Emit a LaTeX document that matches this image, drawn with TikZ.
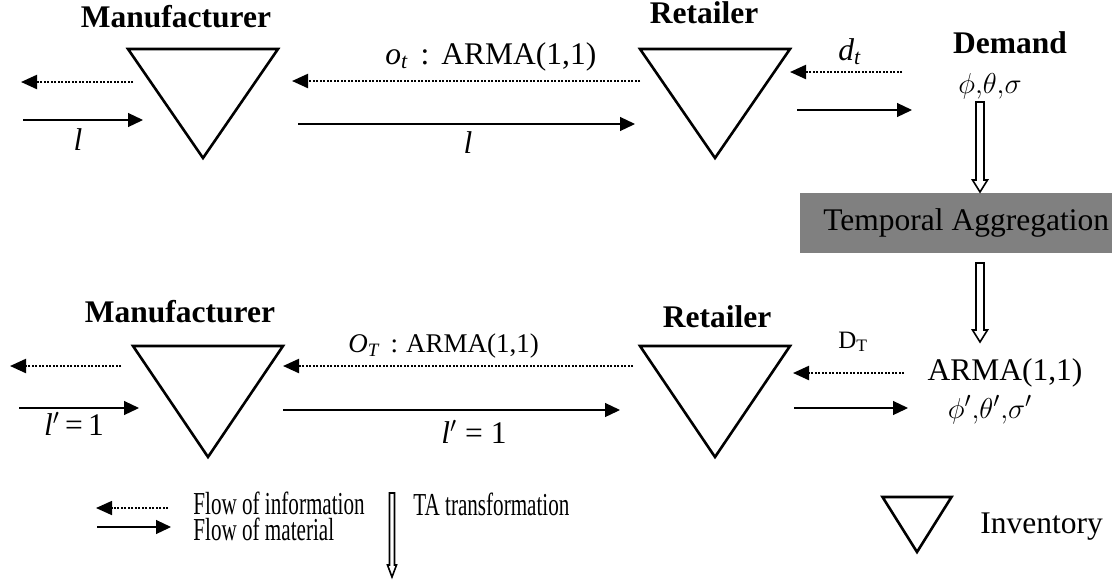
\documentclass[tikz,border=0pt]{standalone}
\usepackage{fontspec}
\setmainfont{Liberation Serif}
\usepackage{graphicx}
\usetikzlibrary{arrows.meta,calc}

% inventory triangle: top centre, half width, height
\newcommand{\stock}[3]{%
  \draw[inv] ($(#1)+(-#2,0)$) -- ($(#1)+(#2,0)$) -- ($(#1)+(0,#3)$) -- cycle;}
% hollow TA arrow: start, tip, shaft half width, head half width
\newcommand{\tadown}[4]{%
  \draw[tashaft] ($(#1)+(-#3,0)$) -- ($(#2)+(-#3,-12)$) -- ($(#2)+(-#4,-12)$) -- (#2)
    -- ($(#2)+(#4,-12)$) -- ($(#2)+(#3,-12)$) -- ($(#1)+(#3,0)$) -- cycle;}
\newcommand{\cond}[1]{\scalebox{0.66}[1]{#1}}

\tikzset{
  txt/.style={inner sep=0pt, anchor=base, font=\fontsize{15.75}{18}\selectfont},
  head/.style={txt, font=\fontsize{15.75}{18}\selectfont\bfseries},
  small/.style={inner sep=0pt, anchor=base west, font=\fontsize{13.5}{15}\selectfont},
  key/.style={inner sep=0pt, anchor=base west, font=\fontsize{16}{18}\selectfont},
  inv/.style={line width=1.3pt, line join=miter},
  info/.style={line width=1.1pt, dash pattern=on 1pt off 0.75pt,
    -{Triangle[length=8pt,width=7pt]}},
  mat/.style={line width=0.6pt, -{Triangle[length=7.5pt,width=7pt]}},
  tashaft/.style={line width=0.8pt, line join=miter},
  tabox/.style={fill=gray, anchor=west, minimum height=30pt, inner xsep=11.5pt,
    inner ysep=0pt, font=\fontsize{15.75}{18}\selectfont},
}

\begin{document}
\begin{tikzpicture}[x=0.5pt, y=-0.5pt]
  \useasboundingbox (0,0) rectangle (1112,579);

  % upper chain
  \coordinate (mtop) at (203,49);
  \coordinate (rtop) at (715,49);
  \stock{mtop}{75}{109}
  \stock{rtop}{75}{109}
  \node[head] (mfr1) at (176,27) {Manufacturer};
  \node[head] (ret1) at (704,23) {Retailer};
  \node[head] (dem) at (1010,53) {Demand};

  \coordinate (i1s) at (133,82);  \coordinate (i1e) at (21,82);
  \coordinate (m1s) at (23,120);  \coordinate (m1e) at (143,120);
  \coordinate (i2s) at (640,81);  \coordinate (i2e) at (292,81);
  \coordinate (m2s) at (298,124); \coordinate (m2e) at (635,124);
  \coordinate (i3s) at (902,72);  \coordinate (i3e) at (790,72);
  \coordinate (m3s) at (797,110); \coordinate (m3e) at (912,110);
  \draw[info] (i1s) -- (i1e);
  \draw[mat] (m1s) -- (m1e);
  \draw[info] (i2s) -- (i2e);
  \draw[mat] (m2s) -- (m2e);
  \draw[info] (i3s) -- (i3e);
  \draw[mat] (m3s) -- (m3e);

  \node[txt, anchor=base west] (ot) at (385,64)
    {\textit{o}\textsubscript{\textit{t}}\hspace{6pt}:\hspace{6pt}ARMA(1,1)};
  \node[txt] (l1) at (78,150) {\textit{l}};
  \node[txt] (l2) at (468,153) {\textit{l}};
  \node[txt] (dt) at (850,60) {\textit{d}\textsubscript{\textit{t}}};
  \node[txt] (par1) at (990,93) {$\phi{,}\theta{,}\sigma$};

  % aggregation step
  \node[tabox] (ta) at (800,223) {Temporal Aggregation};
  \coordinate (ta1s) at (980,102); \coordinate (ta1e) at (980,192);
  \coordinate (ta2s) at (980,263); \coordinate (ta2e) at (980,342);
  \tadown{ta1s}{ta1e}{4}{7.5}
  \tadown{ta2s}{ta2e}{4}{7.5}

  % lower chain
  \coordinate (mbot) at (208,346);
  \coordinate (rbot) at (715,346);
  \stock{mbot}{75}{111}
  \stock{rbot}{75}{111}
  \node[head] (mfr2) at (180,322) {Manufacturer};
  \node[head] (ret2) at (717,327) {Retailer};

  \coordinate (i4s) at (121,366); \coordinate (i4e) at (10,366);
  \coordinate (m4s) at (19,408);  \coordinate (m4e) at (139,408);
  \coordinate (i5s) at (633,366); \coordinate (i5e) at (283,366);
  \coordinate (m5s) at (283,410); \coordinate (m5e) at (620,410);
  \coordinate (i6s) at (904,373); \coordinate (i6e) at (793,373);
  \coordinate (m6s) at (794,408); \coordinate (m6e) at (908,408);
  \draw[info] (i4s) -- (i4e);
  \draw[mat] (m4s) -- (m4e);
  \draw[info] (i5s) -- (i5e);
  \draw[mat] (m5s) -- (m5e);
  \draw[info] (i6s) -- (i6e);
  \draw[mat] (m6s) -- (m6e);

  \node[small] (oT) at (348,352)
    {\textit{O}\textsubscript{\textit{T}}\hspace{5pt}:\hspace{4pt}ARMA(1,1)};
  \node[small, font=\fontsize{12.5}{15}\selectfont] (DT) at (838,348) {D\textsubscript{T}};
  \node[txt] (arma) at (1005,380) {ARMA(1,1)};
  \node[txt] (par2) at (990,418) {$\phi'{,}\theta'{,}\sigma'$};
  \node[txt] (l3) at (74,435) {\textit{l}$'$\,=\,1};
  \node[txt] (l4) at (474,443) {\textit{l}$'$ = 1};

  % legend
  \coordinate (k1s) at (168,508); \coordinate (k1e) at (96,508);
  \coordinate (k2s) at (97,527);  \coordinate (k2e) at (171,527);
  \draw[info, line width=0.8pt] (k1s) -- (k1e);
  \draw[mat] (k2s) -- (k2e);
  \node[key] (kinfo) at (193,514) {\cond{Flow of information}};
  \node[key] (kmat) at (193,540) {\cond{Flow of material}};
  \coordinate (k3s) at (392,493); \coordinate (k3e) at (392,577);
  \tadown{k3s}{k3e}{2.5}{4.5}
  \node[key] (kta) at (413,515) {\cond{TA transformation}};
  \coordinate (ktri) at (917,497);
  \stock{ktri}{34.5}{55}
  \node[txt, anchor=base west] (kinv) at (980,533) {Inventory};
\end{tikzpicture}
\end{document}
